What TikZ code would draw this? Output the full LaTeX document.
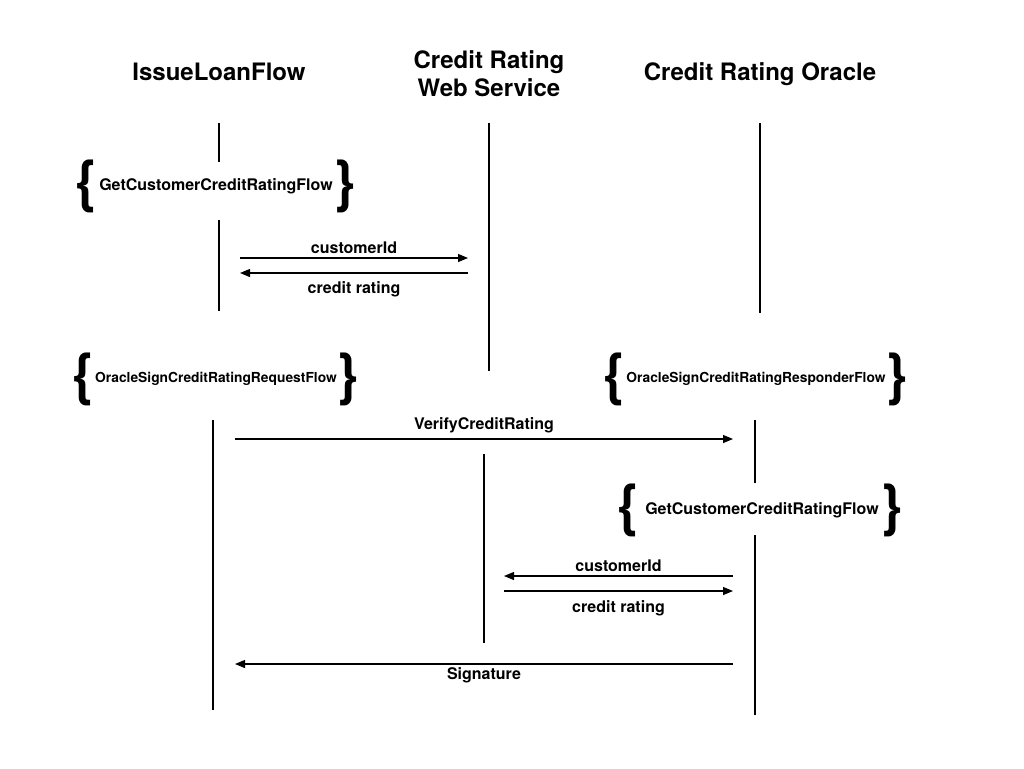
\documentclass[tikz,border=0pt]{standalone}
\usepackage{fontspec}
\setmainfont{TeX Gyre Heros}
\usetikzlibrary{positioning,arrows.meta}
\begin{document}
\begin{tikzpicture}[x=1pt,y=-1pt,
  actor/.style={font=\fontsize{24}{28}\selectfont\bfseries,align=center,anchor=base},
  msg/.style={font=\fontsize{16}{18}\selectfont\bfseries},
  flowname/.style={font=\fontsize{16}{18}\selectfont\bfseries,inner sep=0pt},
  smallflow/.style={font=\fontsize{13.8}{16}\selectfont\bfseries,inner sep=0pt},
  curly/.style={font=\fontsize{57}{57}\selectfont\bfseries,inner sep=0pt},
  life/.style={line width=1.6pt},
  call/.style={line width=1.2pt,-{Triangle[length=10pt,width=8pt]}}]
\useasboundingbox (0,0) rectangle (1024,768);
% actors
\node[actor] (loan) at (219,81) {IssueLoanFlow};
\node[actor] (web) at (489,96) {Credit Rating\\Web Service};
\node[actor] (oracle) at (760,81) {Credit Rating Oracle};
% sub flows
\node[flowname] (getA) at (216,186) {GetCustomerCreditRatingFlow};
\node[curly,left=1pt of getA] (getAl) {\{};
\node[curly,right=0pt of getA] (getAr) {\}};
\node[smallflow] (req) at (216,379) {OracleSignCreditRatingRequestFlow};
\node[curly,left=0pt of req] (reql) {\{};
\node[curly,right=-1pt of req] (reqr) {\}};
\node[smallflow] (resp) at (756,379) {OracleSignCreditRatingResponderFlow};
\node[curly,left=0pt of resp] (respl) {\{};
\node[curly,right=-1pt of resp] (respr) {\}};
\node[flowname] (getB) at (762,510) {GetCustomerCreditRatingFlow};
\node[curly,left=5pt of getB] (getBl) {\{};
\node[curly,right=1pt of getB] (getBr) {\}};
% lifelines
\draw[life] (219,123) -- (219,162);
\draw[life] (219,220) -- (219,311);
\draw[life] (489,123) -- (489,371);
\draw[life] (760,123) -- (760,313);
\draw[life] (213,420) -- (213,710);
\draw[life] (484,454) -- (484,643);
\draw[life] (755,420) -- (755,483);
\draw[life] (755,535) -- (755,715);
% messages
\coordinate (l1) at (240,258); \coordinate (w1) at (468,258);
\coordinate (l2) at (240,273); \coordinate (w2) at (468,273);
\coordinate (l3) at (235,439); \coordinate (o3) at (733,439);
\coordinate (w4) at (504,576); \coordinate (o4) at (733,576);
\coordinate (w5) at (504,591); \coordinate (o5) at (733,591);
\coordinate (l6) at (235,664); \coordinate (o6) at (733,664);
\draw[call] (l1) -- (w1) node[msg,above,midway]{customerId};
\draw[call] (w2) -- (l2) node[msg,below=5pt,midway]{credit rating};
\draw[call] (l3) -- (o3) node[msg,above=2pt,midway]{VerifyCreditRating};
\draw[call] (o4) -- (w4) node[msg,above,midway]{customerId};
\draw[call] (w5) -- (o5) node[msg,below=6pt,midway]{credit rating};
\draw[call] (o6) -- (l6) node[msg,below,midway]{Signature};
\end{tikzpicture}
\end{document}
